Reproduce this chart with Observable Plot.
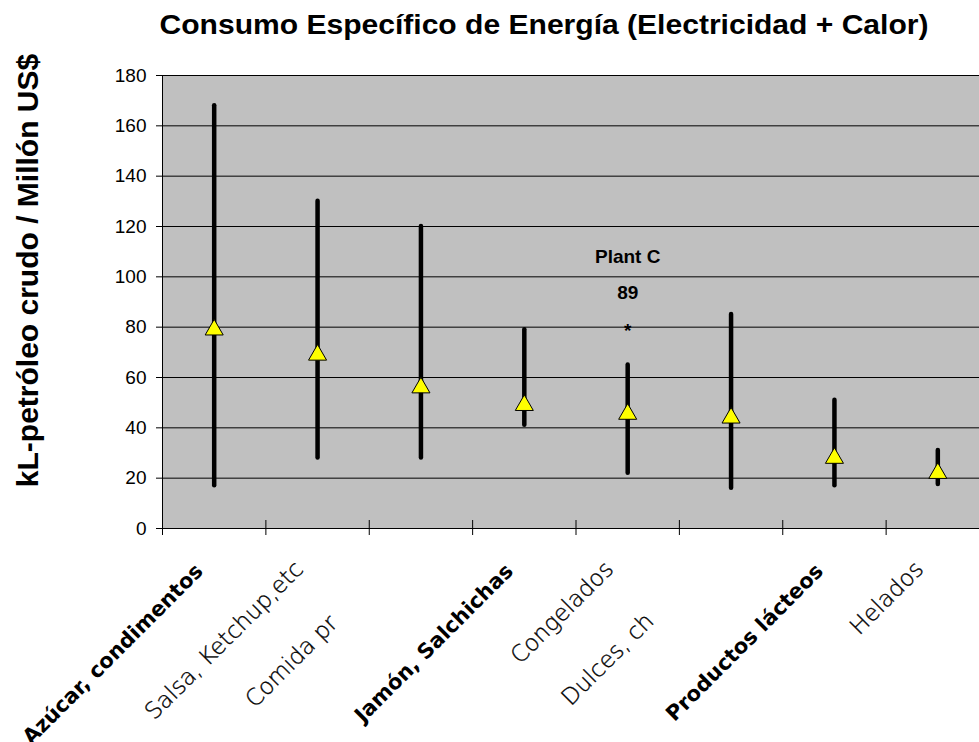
<!DOCTYPE html>
<html><head><meta charset="utf-8">
<script src="https://cdn.jsdelivr.net/npm/d3@7"></script>
<script src="https://cdn.jsdelivr.net/npm/@observablehq/plot@0.6"></script>
<style>
html,body{margin:0;padding:0;background:#fff;overflow:hidden;}
#chart svg{display:block;}
</style></head><body><div id="chart"></div>
<script>
const titleText = "Consumo Específico de Energía (Electricidad + Calor)";
const yLabelText = "kL-petróleo crudo / Millón US$";
const categories = ["Azúcar, condimentos","Salsa, Ketchup,etc","Comida pr","Jamón, Salchichas","Congelados","Dulces, ch","Productos lácteos","Helados"];
const boldLabels = [true,false,false,true,false,false,true,false];
const minValues = [17, 28, 28, 41, 22, 16, 17, 17.5];
const maxValues = [168, 130, 120, 79, 65, 85, 51, 31];
const avgValues = [80, 70, 57, 50, 46.5, 45, 29, 23];
const yTicks = [0,20,40,60,80,100,120,140,160,180];
const annotationText = ["Plant C","89","*"];
const annotationY = [108, 93.5, 78.5];
const annotationCategory = 4;

const rows = categories.map((c,i)=>({i, label:c, bold:boldLabels[i], min:minValues[i], max:maxValues[i], avg:avgValues[i]}));
const edges = d3.range(categories.length + 1).map(k => k - 0.5);
const notes = annotationText.map((t,k)=>({t, y:annotationY[k], i:annotationCategory}));
const truncated = new Set(["Comida pr","Dulces, ch"]);
const light = {rotate: -45, textAnchor: "end", lineAnchor: "bottom", fontSize: 23, fontWeight: 200, fontFamily: "'DejaVu Sans', sans-serif", fill: "black", stroke: "black", strokeWidth: 0.35};

const svg = Plot.plot({
  width: 979, height: 742,
  marginLeft: 162, marginRight: -10, marginTop: 75, marginBottom: 214,
  style: {fontFamily: "'Liberation Sans', Arial, sans-serif", color: "black", background: "white"},
  x: {type: "linear", domain: [-0.5, 7.5], axis: null},
  y: {domain: [0, 180], axis: null},
  marks: [
    Plot.frame({fill: "#C0C0C0", stroke: null}),
    Plot.ruleY(yTicks.filter(v => v > 0), {stroke: "black", strokeWidth: 1}),
    Plot.ruleY([0], {stroke: "black", strokeWidth: 1}),
    Plot.ruleX([edges[0]], {stroke: "black", strokeWidth: 1}),
    Plot.axisY(yTicks, {tickSize: 6, tickPadding: 10, fontSize: 19, label: null, stroke: "black"}),
    Plot.ruleX(edges, {y1: 0, y2: 0, insetTop: 7, insetBottom: 8, stroke: "black"}),
    Plot.ruleX(rows, {x: "i", y1: "min", y2: "max", stroke: "black", strokeWidth: 4.5, strokeLinecap: "round"}),
    Plot.dot(rows, {x: "i", y: "avg", symbol: "triangle", r: 6.7, fill: "#FFFF00", stroke: "black", strokeWidth: 1, dy: 2.6}),
    Plot.text(notes, {x: "i", y: "y", text: "t", fontSize: 19, fontWeight: "bold", fill: "black"}),
    Plot.text(rows, {filter: d => d.bold, x: "i", y: 0, text: "label", rotate: -45, textAnchor: "end", lineAnchor: "bottom", dx: -10, dy: 44, fontSize: 21, fontWeight: "bold", fontFamily: "'DejaVu Sans', sans-serif", fill: "black"}),
    Plot.text(rows, {...light, filter: d => !d.bold && !truncated.has(d.label), x: "i", y: 0, text: "label", dx: -13, dy: 42}),
    Plot.text(rows, {...light, filter: d => d.label === "Comida pr", x: "i", y: 0, text: "label", dx: -82, dy: 96}),
    Plot.text(rows, {...light, filter: d => d.label === "Dulces, ch", x: "i", y: 0, text: "label", dx: -76, dy: 94}),
    Plot.text([titleText], {frameAnchor: "top", dx: -32, dy: -42, lineAnchor: "bottom", fontSize: 27, fontWeight: "bold", fill: "black", className: "ttl"}),
    Plot.text([yLabelText], {frameAnchor: "left", dx: -134, dy: -31.5, rotate: -90, textAnchor: "middle", fontSize: 30, fontWeight: "bold", fill: "black"})
  ]
});
d3.select(svg).select(".ttl text").attr("textLength", 769).attr("lengthAdjust", "spacingAndGlyphs");
document.getElementById("chart").appendChild(svg);
</script></body></html>
